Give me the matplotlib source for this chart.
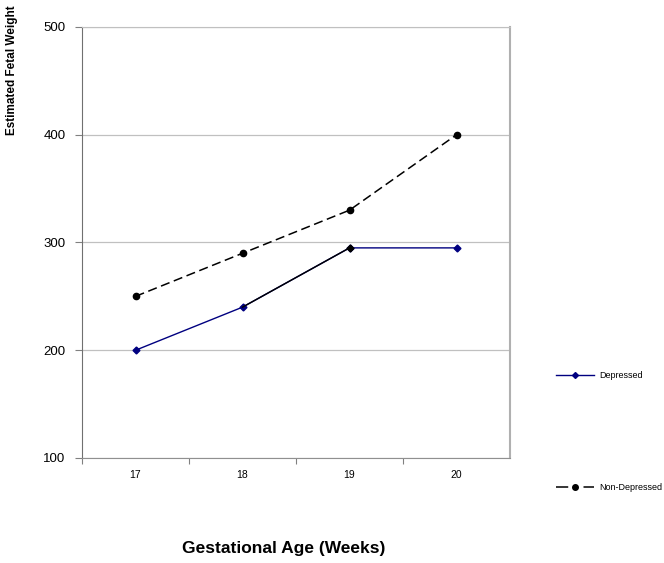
import matplotlib.pyplot as plt

plt.rcParams['font.family'] = ['Liberation Sans', 'DejaVu Sans']

weeks = ["17", "18", "19", "20"]
depressed = [200, 240, 295, 295]
non_depressed = [250, 290, 330, 400]
y_ticks = [100, 200, 300, 400, 500]

fig = plt.figure(figsize=(6.64, 5.63), dpi=100)
ax = fig.add_axes([82 / 664, 1 - 458 / 563, 428 / 664, 431 / 563])

pos = list(range(1, len(weeks) + 1))

# non-depressed: dashed black with round markers
ax.plot(pos, non_depressed, color="black", linestyle=(0, (6, 3)), linewidth=1.1,
        marker="o", markersize=4.5, zorder=3)

# depressed: navy line, the 18-19 segment is drawn in black
ax.plot(pos, depressed, color="#000080", linewidth=1.0,
        marker="D", markersize=3.5, zorder=3)
ax.plot(pos[1:3], depressed[1:3], color="black", linewidth=1.0, zorder=4)
ax.plot(pos[2:3], depressed[2:3], color="black", marker="D", markersize=3.5,
        linestyle="none", zorder=5)

ax.set_xlim(0.5, len(weeks) + 0.5)
ax.set_ylim(y_ticks[0], y_ticks[-1])
ax.set_yticks(y_ticks)
ax.set_yticklabels([str(v) for v in y_ticks], fontsize=9.5)
ax.tick_params(axis="y", length=5, color="#808080", pad=7)

# category axis: ticks on boundaries, labels in between
ax.set_xticks([p + 0.5 for p in pos[:-1]] + [0.5])
ax.set_xticklabels([])
ax.set_xticks(pos, minor=True)
ax.set_xticklabels(weeks, minor=True, fontsize=7.5)
ax.tick_params(axis="x", which="major", length=4, color="#808080", direction="out")
ax.tick_params(axis="x", which="minor", length=0, pad=9)

ax.grid(axis="y", color="#c0c0c0", linewidth=0.9)
ax.set_axisbelow(True)
ax.spines["left"].set_color("#707070")
ax.spines["bottom"].set_color("#909090")
ax.spines["right"].set_color("#b0b0b0")
ax.spines["right"].set_linewidth(1.5)
ax.spines["top"].set_color("#c0c0c0")

fig.text(12 / 664, 1 - 70 / 563, "Estimated Fetal Weight", rotation=90,
         fontsize=8.5, fontweight="bold", ha="center", va="center")
fig.text(284 / 664, 1 - 549 / 563, "Gestational Age (Weeks)",
         fontsize=12.5, fontweight="bold", ha="center", va="center")

# legend entries placed separately at the right
h1, = ax.plot([], [], color="#000080", linewidth=1.0, marker="D", markersize=3)
h2, = ax.plot([], [], color="black", linestyle=(0, (8, 10)), linewidth=1.1,
              marker="o", markersize=4)
leg1 = fig.legend([h1], ["Depressed"], loc="center left",
                  bbox_to_anchor=(548 / 664, 1 - 376 / 563), frameon=False,
                  fontsize=6.5, handlelength=4.2, handletextpad=0.6)
leg2 = fig.legend([h2], ["Non-Depressed"], loc="center left",
                  bbox_to_anchor=(548 / 664, 1 - 488 / 563), frameon=False,
                  fontsize=6.5, handlelength=4.2, handletextpad=0.6)

fig.savefig("out.png", dpi=100)
